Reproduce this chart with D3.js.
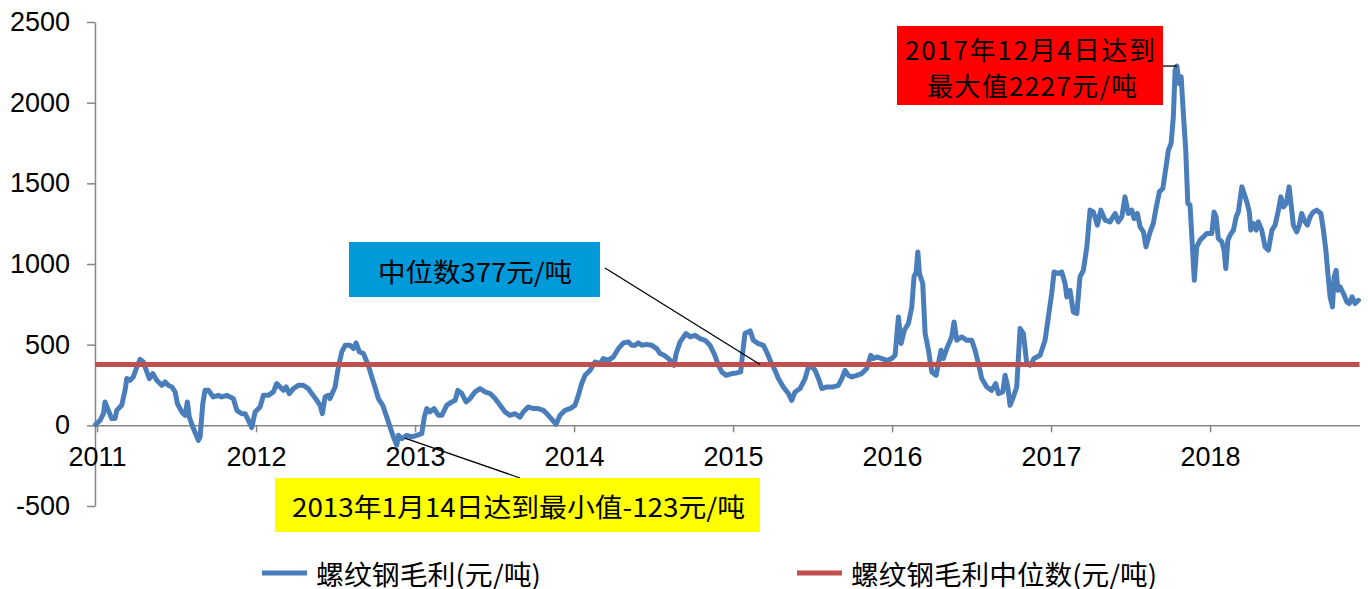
<!DOCTYPE html>
<html>
<head>
<meta charset="utf-8">
<script src="https://cdn.jsdelivr.net/npm/d3@7"></script>
<style>
  html, body { margin: 0; padding: 0; background: #fff; }
  svg { display: block; font-family: "Liberation Sans", Arial, sans-serif; }
  .cjk { font-family: "Noto Sans CJK SC", "Liberation Sans", sans-serif; }
</style>
</head>
<body>
<svg id="chart" width="1368" height="589"></svg>
<script>
// Decimal year of each reading (as placed on the chart's time axis)
const years = [
  2010.990, 2011.019, 2011.040, 2011.050, 2011.071, 2011.092, 2011.113, 2011.124, 2011.155, 2011.176,
  2011.187, 2011.208, 2011.228, 2011.250, 2011.270, 2011.291, 2011.313, 2011.329, 2011.350, 2011.375,
  2011.407, 2011.428, 2011.448, 2011.470, 2011.491, 2011.505, 2011.533, 2011.553, 2011.568, 2011.580,
  2011.606, 2011.637, 2011.648, 2011.665, 2011.679, 2011.700, 2011.731, 2011.763, 2011.784, 2011.816,
  2011.836, 2011.857, 2011.879, 2011.910, 2011.931, 2011.952, 2011.973, 2011.994,
  2012.025, 2012.046, 2012.077, 2012.109, 2012.130, 2012.151, 2012.172, 2012.189, 2012.209, 2012.235,
  2012.266, 2012.297, 2012.329, 2012.350, 2012.382, 2012.403, 2012.417, 2012.434, 2012.455, 2012.465,
  2012.497, 2012.518, 2012.539, 2012.560, 2012.591, 2012.612, 2012.629, 2012.650, 2012.675, 2012.706,
  2012.728, 2012.748, 2012.769, 2012.797, 2012.822, 2012.843, 2012.864, 2012.885, 2012.895, 2012.916,
  2012.948, 2012.979,
  2013.011, 2013.042, 2013.058, 2013.074, 2013.094, 2013.119, 2013.147, 2013.168, 2013.199, 2013.231,
  2013.252, 2013.269, 2013.294, 2013.321, 2013.346, 2013.377, 2013.409, 2013.440, 2013.472, 2013.503,
  2013.535, 2013.566, 2013.597, 2013.629, 2013.660, 2013.681, 2013.711, 2013.744, 2013.775, 2013.807,
  2013.838, 2013.866, 2013.887, 2013.912, 2013.943, 2013.975,
  2014.006, 2014.027, 2014.048, 2014.069, 2014.101, 2014.132, 2014.164, 2014.184, 2014.216, 2014.247,
  2014.279, 2014.310, 2014.342, 2014.363, 2014.384, 2014.404, 2014.426, 2014.457, 2014.489, 2014.520,
  2014.541, 2014.566, 2014.593, 2014.614, 2014.629, 2014.642, 2014.667, 2014.704, 2014.730, 2014.761,
  2014.792, 2014.824, 2014.855, 2014.881, 2014.908, 2014.929, 2014.956, 2014.992,
  2015.023, 2015.048, 2015.061, 2015.075, 2015.107, 2015.128, 2015.159, 2015.191, 2015.216, 2015.237,
  2015.264, 2015.285, 2015.316, 2015.348, 2015.369, 2015.390, 2015.421, 2015.453, 2015.474, 2015.484,
  2015.516, 2015.537, 2015.558, 2015.589, 2015.631, 2015.662, 2015.684, 2015.704, 2015.725, 2015.747,
  2015.778, 2015.809, 2015.841, 2015.866, 2015.883, 2015.904, 2015.935, 2015.967, 2015.998,
  2016.019, 2016.040, 2016.057, 2016.077, 2016.103, 2016.124, 2016.138, 2016.151, 2016.162, 2016.172,
  2016.193, 2016.208, 2016.229, 2016.250, 2016.277, 2016.291, 2016.308, 2016.323, 2016.348, 2016.375,
  2016.390, 2016.407, 2016.438, 2016.470, 2016.501, 2016.522, 2016.543, 2016.564, 2016.596, 2016.627,
  2016.652, 2016.669, 2016.696, 2016.711, 2016.728, 2016.742, 2016.763, 2016.784, 2016.805, 2016.826,
  2016.847, 2016.868, 2016.893, 2016.931, 2016.962, 2016.983,
  2017.004, 2017.019, 2017.046, 2017.067, 2017.088, 2017.099, 2017.119, 2017.140, 2017.162, 2017.182,
  2017.203, 2017.225, 2017.245, 2017.266, 2017.291, 2017.313, 2017.340, 2017.371, 2017.403, 2017.423,
  2017.445, 2017.465, 2017.486, 2017.508, 2017.522, 2017.543, 2017.560, 2017.581, 2017.597, 2017.623,
  2017.643, 2017.660, 2017.681, 2017.703, 2017.723, 2017.738, 2017.755, 2017.769, 2017.780, 2017.791,
  2017.805, 2017.818, 2017.832, 2017.847, 2017.860, 2017.874, 2017.889, 2017.901, 2017.916, 2017.937,
  2017.958, 2017.979,
  2018.011, 2018.025, 2018.038, 2018.052, 2018.074, 2018.088, 2018.099, 2018.112, 2018.126, 2018.147,
  2018.164, 2018.178, 2018.200, 2018.214, 2018.231, 2018.247, 2018.256, 2018.273, 2018.290, 2018.304,
  2018.325, 2018.346, 2018.367, 2018.389, 2018.409, 2018.430, 2018.445, 2018.462, 2018.479, 2018.497,
  2018.509, 2018.524, 2018.545, 2018.561, 2018.576, 2018.597, 2018.612, 2018.629, 2018.650, 2018.671,
  2018.697, 2018.713, 2018.728, 2018.741, 2018.755, 2018.770, 2018.780, 2018.793, 2018.804, 2018.818,
  2018.839, 2018.860, 2018.876, 2018.893, 2018.912, 2018.933
];

// 螺纹钢毛利 (元/吨)
const profit = [
  5, 31, 72, 145, 93, 42, 42, 93, 124, 217,
  290, 279, 300, 362, 409, 393, 331, 290, 321, 279,
  248, 269, 248, 238, 207, 135, 83, 62, 145, 51,
  -20, -93, -72, 135, 217, 217, 176, 186, 176, 186,
  176, 166, 93, 72, 72, 31, -14, 83,
  114, 186, 186, 207, 259, 238, 217, 238, 197, 228,
  248, 248, 228, 197, 155, 124, 72, 176, 186, 166,
  238, 362, 455, 496, 496, 476, 511, 455, 445, 372,
  300, 238, 166, 124, 51, -10, -72, -123, -62, -83,
  -62, -72,
  -62, -52, 51, 104, 83, 104, 62, 62, 124, 145,
  155, 217, 197, 145, 166, 207, 228, 207, 197, 166,
  124, 83, 62, 72, 51, 83, 114, 104, 104, 93,
  62, 31, 6, 62, 93, 104,
  124, 186, 259, 310, 341, 393, 383, 414, 403, 424,
  476, 511, 517, 496, 496, 511, 496, 502, 496, 476,
  445, 434, 414, 393, 372, 445, 517, 569, 548, 558,
  538, 527, 496, 445, 372, 331, 310, 321,
  325, 331, 455, 569, 585, 527, 507, 496, 445, 393,
  341, 290, 238, 197, 155, 207, 228, 290, 362, 372,
  341, 290, 228, 238, 238, 248, 290, 341, 310, 300,
  310, 321, 352, 434, 414, 424, 414, 403, 414,
  434, 672, 507, 589, 631, 734, 920, 951, 1075, 941,
  879, 569, 465, 331, 310, 383, 465, 414, 486, 548,
  641, 527, 548, 527, 527, 465, 383, 290, 238, 217,
  259, 197, 207, 310, 238, 124, 176, 238, 600, 569,
  383, 372, 414, 434, 527, 672,
  817, 951, 941, 951, 879, 796, 837, 703, 693, 920,
  961, 1106, 1334, 1323, 1241, 1334, 1272, 1261, 1313, 1261,
  1292, 1416, 1313, 1334, 1282, 1313, 1230, 1199, 1106, 1199,
  1251, 1344, 1447, 1468, 1602, 1706, 1747, 1912, 2202, 2227,
  2119, 2161, 1933, 1706, 1375, 1365, 1106, 899, 1106, 1148,
  1168, 1189,
  1189, 1323, 1292, 1158, 1137, 1086, 972, 1148, 1179, 1210,
  1292, 1323, 1478, 1437, 1385, 1323, 1210, 1251, 1210, 1261,
  1210, 1106, 1086, 1210, 1241, 1334, 1416, 1354, 1375, 1478,
  1375, 1241, 1199, 1241, 1313, 1261, 1241, 1292, 1323, 1334,
  1313, 1210, 1086, 941, 796, 734, 920, 961, 837, 858,
  817, 765, 755, 796, 755, 775
];

const medianValue = 377;
const xTickYears = [2011, 2012, 2013, 2014, 2015, 2016, 2017, 2018];
const yTickValues = [-500, 0, 500, 1000, 1500, 2000, 2500];
const seriesNames = ['螺纹钢毛利(元/吨)', '螺纹钢毛利中位数(元/吨)'];
const maxNote = ['2017年12月4日达到', '最大值2227元/吨'];
const minNote = '2013年1月14日达到最小值-123元/吨';
const medianNote = '中位数377元/吨';

const colors = {
  profit: '#4a7ebb',
  median: '#c0504d',
  axis: '#868686',
  text: '#000',
  maxBox: '#ff0000',
  minBox: '#ffff00',
  medianBox: '#009ada'
};

const svg = d3.select('#chart');

// Scales
const x = d3.scaleLinear()
  .domain([2010.987, 2018.94])
  .range([95, 95 + (2018.94 - 2010.987) * 159]);

const y = d3.scaleLinear()
  .domain([-500, 2500])
  .range([506, 22]);

const points = years.map((t, i) => ({ t, v: profit[i] }));

// Y axis
svg.append('g')
  .attr('transform', `translate(${x.range()[0]},0)`)
  .call(d3.axisLeft(y)
    .tickValues(yTickValues)
    .tickFormat(d => String(d))
    .tickSizeInner(8)
    .tickSizeOuter(0)
    .tickPadding(17))
  .call(g => g.select('.domain').attr('stroke', colors.axis).attr('stroke-width', 1.5))
  .call(g => g.selectAll('.tick line').attr('stroke', colors.axis).attr('stroke-width', 1.5))
  .call(g => g.selectAll('text')
    .attr('fill', colors.text)
    .style('font-family', '"Liberation Sans", Arial, sans-serif')
    .style('font-size', '27px'));

// X axis at zero
svg.append('g')
  .attr('transform', `translate(0,${y(0)})`)
  .call(d3.axisBottom(x)
    .tickValues(xTickYears)
    .tickFormat(d => String(d))
    .tickSizeInner(7)
    .tickSizeOuter(0)
    .tickPadding(15))
  .call(g => g.select('.domain').attr('stroke', colors.axis).attr('stroke-width', 1.5))
  .call(g => g.selectAll('.tick line').attr('stroke', colors.axis).attr('stroke-width', 1.5))
  .call(g => g.selectAll('text')
    .attr('fill', colors.text)
    .style('font-family', '"Liberation Sans", Arial, sans-serif')
    .style('font-size', '27px'));

// Profit line
const line = d3.line()
  .x(d => x(d.t))
  .y(d => y(d.v));

svg.append('path')
  .datum(points)
  .attr('fill', 'none')
  .attr('stroke', colors.profit)
  .attr('stroke-width', 5)
  .attr('stroke-linejoin', 'round')
  .attr('stroke-linecap', 'round')
  .attr('d', line);

// Median line
svg.append('line')
  .attr('x1', x.range()[0])
  .attr('x2', x.range()[1])
  .attr('y1', y(medianValue))
  .attr('y2', y(medianValue))
  .attr('stroke', colors.median)
  .attr('stroke-width', 5);

// Annotations
const notes = svg.append('g').attr('class', 'cjk');

// median note
notes.append('line')
  .attr('x1', 605).attr('y1', 268)
  .attr('x2', x(2015.17)).attr('y2', y(medianValue))
  .attr('stroke', '#000').attr('stroke-width', 1.3);
notes.append('rect')
  .attr('x', 349).attr('y', 242).attr('width', 251).attr('height', 55)
  .attr('fill', colors.medianBox);
notes.append('text')
  .attr('x', 378).attr('y', 270)
  .attr('dominant-baseline', 'central')
  .attr('textLength', 194).attr('lengthAdjust', 'spacingAndGlyphs')
  .style('font-size', '26px').attr('fill', colors.text)
  .text(medianNote);

// max note
const peakIdx = d3.maxIndex(profit);
notes.append('line')
  .attr('x1', 1163).attr('y1', y(profit[peakIdx]))
  .attr('x2', x(years[peakIdx])).attr('y2', y(profit[peakIdx]))
  .attr('stroke', '#000').attr('stroke-width', 1.3);
notes.append('rect')
  .attr('x', 897).attr('y', 26).attr('width', 266).attr('height', 79)
  .attr('fill', colors.maxBox);
notes.selectAll('text.max')
  .data(maxNote)
  .enter()
  .append('text')
  .attr('class', 'max')
  .attr('x', (d, i) => i === 0 ? 905 : 927)
  .attr('y', (d, i) => i === 0 ? 48 : 84)
  .attr('dominant-baseline', 'central')
  .attr('textLength', (d, i) => i === 0 ? 250 : 210)
  .attr('lengthAdjust', 'spacing')
  .style('font-size', '26px').attr('fill', colors.text)
  .text(d => d);

// min note
const minIdx = d3.minIndex(profit);
notes.append('line')
  .attr('x1', x(years[minIdx]) + 8).attr('y1', y(profit[minIdx]) - 7)
  .attr('x2', 520).attr('y2', 478)
  .attr('stroke', '#000').attr('stroke-width', 1.3);
notes.append('rect')
  .attr('x', 275).attr('y', 478).attr('width', 485).attr('height', 54)
  .attr('fill', colors.minBox);
notes.append('text')
  .attr('x', 292).attr('y', 505)
  .attr('dominant-baseline', 'central')
  .attr('textLength', 453).attr('lengthAdjust', 'spacingAndGlyphs')
  .style('font-size', '26px').attr('fill', colors.text)
  .text(minNote);

// Legend
const legendItems = [
  { name: seriesNames[0], color: colors.profit, x: 262, width: 225 },
  { name: seriesNames[1], color: colors.median, x: 797, width: 306 }
];
const legend = svg.append('g').attr('class', 'cjk');
legendItems.forEach(item => {
  legend.append('line')
    .attr('x1', item.x).attr('x2', item.x + 45)
    .attr('y1', 573).attr('y2', 573)
    .attr('stroke', item.color)
    .attr('stroke-width', 5);
  legend.append('text')
    .attr('x', item.x + 54).attr('y', 573)
    .attr('dominant-baseline', 'central')
    .attr('textLength', item.width).attr('lengthAdjust', 'spacingAndGlyphs')
    .style('font-size', '27px').attr('fill', colors.text)
    .text(item.name);
});
</script>
</body>
</html>
